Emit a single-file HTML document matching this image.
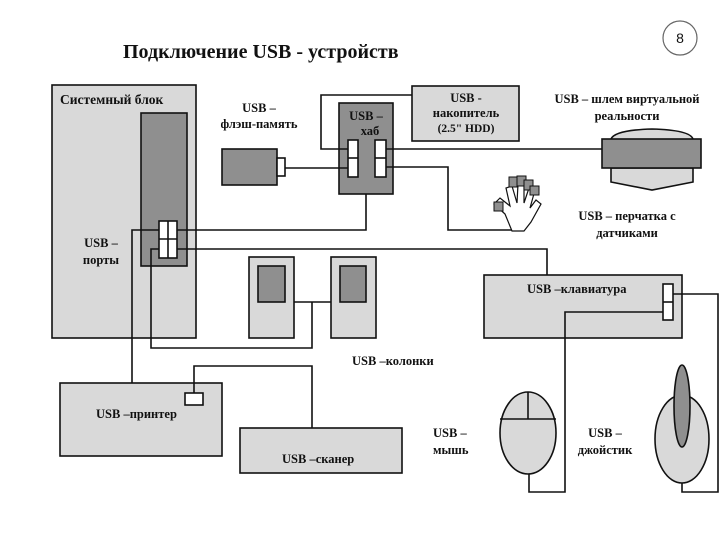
<!DOCTYPE html>
<html><head><meta charset="utf-8"><style>
html,body{margin:0;padding:0;background:#fff;width:720px;height:540px;overflow:hidden}
svg text{font-family:"Liberation Serif","DejaVu Serif",serif;font-weight:bold;fill:#111}
</style></head><body>
<svg width="720" height="540" viewBox="0 0 720 540" xmlns="http://www.w3.org/2000/svg">
<g stroke="#111" stroke-width="1.6" fill="none">
<!-- system block -->
<rect x="52" y="85" width="144" height="253" fill="#d9d9d9"/>
<rect x="141" y="113" width="46" height="153" fill="#8f8f8f"/>
<!-- speakers -->
<rect x="249" y="257" width="45" height="81" fill="#d9d9d9"/>
<rect x="258" y="266" width="27" height="36" fill="#8f8f8f"/>
<rect x="331" y="257" width="45" height="81" fill="#d9d9d9"/>
<rect x="340" y="266" width="26" height="36" fill="#8f8f8f"/>
<!-- flash -->
<rect x="222" y="149" width="55" height="36" fill="#8f8f8f"/>
<rect x="277" y="158" width="8" height="18" fill="#fff"/>
<!-- hub -->
<rect x="339" y="103" width="54" height="91" fill="#8f8f8f"/>
<!-- HDD -->
<rect x="412" y="86" width="107" height="55" fill="#d9d9d9"/>
<!-- keyboard -->
<rect x="484" y="275" width="198" height="63" fill="#d9d9d9"/>
<!-- printer / scanner -->
<rect x="60" y="383" width="162" height="73" fill="#d9d9d9"/>
<rect x="240" y="428" width="162" height="45" fill="#d9d9d9"/>
<!-- connectors -->
<polyline points="177,230 366,230 366,194"/>
<polyline points="159,230 132,230 132,383"/>
<polyline points="177,249 547,249 547,275"/>
<polyline points="159,249 151,249 151,348 312,348 312,302"/>
<line x1="294" y1="302" x2="331" y2="302"/>
<line x1="285" y1="168" x2="348" y2="168"/>
<polyline points="348,149 321,149 321,95 412,95"/>
<line x1="386" y1="149" x2="602" y2="149"/>
<polyline points="386,167 448,167 448,230 512,230"/>
<polyline points="673,294 718,294 718,492 682,492 682,483"/>
<polyline points="663,312 565,312 565,492 529,492 529,474"/>
<polyline points="194,393 194,366 312,366 312,428"/>
<!-- ports -->
<rect x="159" y="221" width="18" height="37" fill="#fff"/>
<line x1="168" y1="221" x2="168" y2="258"/><line x1="159" y1="239" x2="177" y2="239"/>
<rect x="348" y="140" width="10" height="37" fill="#fff"/><line x1="348" y1="158" x2="358" y2="158"/>
<rect x="375" y="140" width="11" height="37" fill="#fff"/><line x1="375" y1="158" x2="386" y2="158"/>
<rect x="663" y="284" width="10" height="36" fill="#fff"/><line x1="663" y1="302" x2="673" y2="302"/>
<rect x="185" y="393" width="18" height="12" fill="#fff"/>
<!-- helmet -->
<path d="M611,139 Q615,130 652,129 Q690,130 693,139" fill="#d9d9d9"/>
<path d="M611,168 L611,182 L652,190 L693,182 L693,168 Z" fill="#d9d9d9"/>
<rect x="602" y="139" width="99" height="29" fill="#8f8f8f"/>
<!-- glove -->
<path d="M505,214 L494,204 L500,198 L510,206 L506,188 L512,186 L517,203 L518,184 L524,184 L524,203 L529,188 L535,190 L530,208 L536,200 L541,204 L531,222 L524,231 L512,231 Z" fill="#fff" stroke-width="1.2"/>
<rect x="509" y="177" width="9" height="10" fill="#8f8f8f" stroke-width="1"/>
<rect x="517" y="176" width="9" height="10" fill="#8f8f8f" stroke-width="1"/>
<rect x="524" y="180" width="9" height="10" fill="#8f8f8f" stroke-width="1"/>
<rect x="530" y="186" width="9" height="9" fill="#8f8f8f" stroke-width="1"/>
<rect x="494" y="202" width="9" height="9" fill="#8f8f8f" stroke-width="1"/>
<!-- mouse -->
<ellipse cx="528" cy="433" rx="28" ry="41" fill="#d9d9d9"/>
<line x1="500" y1="419" x2="556" y2="419"/><line x1="528" y1="392" x2="528" y2="419"/>
<!-- joystick -->
<ellipse cx="682" cy="439" rx="27" ry="44" fill="#d9d9d9"/>
<ellipse cx="682" cy="406" rx="8" ry="41" fill="#8f8f8f"/>
<!-- page number -->
<circle cx="680" cy="38" r="17" fill="#fff" stroke="#666" stroke-width="1.2"/>
</g>
<text x="680" y="43" text-anchor="middle" style="font-family:'Liberation Sans',sans-serif;font-weight:normal" font-size="14">8</text>
<text x="123" y="58" font-size="20">Подключение USB - устройств</text>
<g font-size="12.5">
<text x="60" y="104" font-size="13.5">Системный блок</text>
<text x="259" y="112" text-anchor="middle">USB –</text><text x="259" y="128" text-anchor="middle">флэш-память</text>
<text x="366" y="120" text-anchor="middle">USB –</text><text x="370" y="135" text-anchor="middle">хаб</text>
<text x="466" y="102" text-anchor="middle">USB -</text><text x="466" y="117" text-anchor="middle">накопитель</text><text x="466" y="132" text-anchor="middle" font-size="11.5">(2.5" HDD)</text>
<text x="627" y="103" text-anchor="middle">USB – шлем виртуальной</text><text x="627" y="120" text-anchor="middle">реальности</text>
<text x="627" y="220" text-anchor="middle">USB – перчатка с</text><text x="627" y="237" text-anchor="middle">датчиками</text>
<text x="101" y="247" text-anchor="middle">USB –</text><text x="101" y="264" text-anchor="middle">порты</text>
<text x="527" y="293">USB –клавиатура</text>
<text x="352" y="365">USB –колонки</text>
<text x="96" y="418">USB –принтер</text>
<text x="282" y="463">USB –сканер</text>
<text x="433" y="437">USB –</text><text x="433" y="454">мышь</text>
<text x="605" y="437" text-anchor="middle">USB –</text><text x="605" y="454" text-anchor="middle">джойстик</text>
</g>
</svg>
</body></html>
